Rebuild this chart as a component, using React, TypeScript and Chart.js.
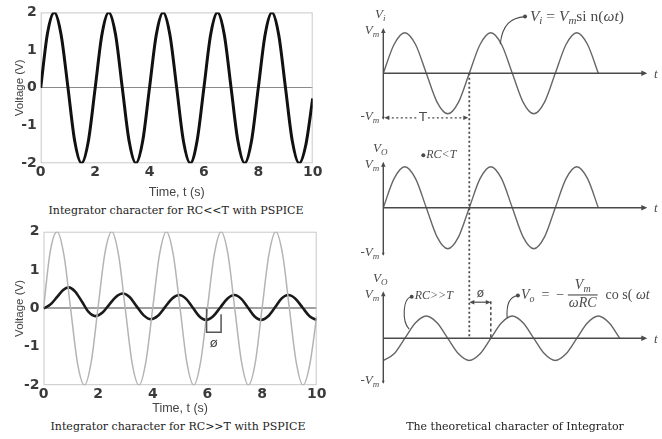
import React, { useEffect, useRef } from "react";
import { Chart, registerables } from "chart.js";

Chart.register(...registerables);

// ---------------- PSPICE simulations (time in s, voltage in V) ----------------
const pspiceTime = [
  0, 0.25, 0.5, 0.75, 1, 1.25, 1.5, 1.75, 2, 2.25, 2.5, 2.75, 3, 3.25, 3.5, 3.75, 4, 4.25, 4.5, 4.75, 5,
  5.25, 5.5, 5.75, 6, 6.25, 6.5, 6.75, 7, 7.25, 7.5, 7.75, 8, 8.25, 8.5, 8.75, 9, 9.25, 9.5, 9.75, 10,
];
// output for RC << T (upper-left, black)
const outputRcSmall = [
  0, 1.45, 2, 1.41, 0.02, -1.41, -2, -1.42, -0.02, 1.41, 2, 1.42, 0, -1.41, -2, -1.41, 0, 1.41, 2, 1.41, 0,
  -1.42, -2, -1.4, 0, 1.42, 2, 1.41, 0, -1.41, -2, -1.41, 0, 1.41, 2, 1.41, 0, -1.41, -2, -1.5, -0.28,
];
// input in the RC >> T simulation (lower-left, grey)
const inputRcLarge = [
  0, 1.5, 2, 1.38, -0.05, -1.45, -2, -1.38, 0.05, 1.45, 2, 1.38, -0.05, -1.45, -2, -1.38, 0.02, 1.42, 2, 1.4,
  0, -1.42, -2, -1.4, 0, 1.4, 2, 1.42, 0, -1.4, -2, -1.42, 0, 1.4, 2, 1.42, 0, -1.4, -2, -1.45, -0.2,
];
// output for RC >> T (lower-left, black)
const outputTime = [
  0, 0.25, 0.5, 0.72, 0.92, 1.16, 1.41, 1.65, 1.9, 2.15, 2.4, 2.65, 2.9, 3.16, 3.41, 3.67, 3.93, 4.19, 4.45, 4.71,
  4.97, 5.21, 5.46, 5.7, 5.95, 6.21, 6.47, 6.73, 6.99, 7.23, 7.48, 7.72, 7.97, 8.22, 8.47, 8.71, 8.96, 9.22, 9.48,
  9.74, 10,
];
const outputRcLarge = [
  0, 0.1, 0.3, 0.48, 0.55, 0.44, 0.175, -0.09, -0.2, -0.115, 0.095, 0.3, 0.39, 0.29, 0.055, -0.18, -0.28, -0.19,
  0.035, 0.26, 0.35, 0.255, 0.025, -0.205, -0.3, -0.205, 0.025, 0.255, 0.35, 0.255, 0.025, -0.205, -0.3, -0.205,
  0.025, 0.255, 0.35, 0.255, 0.025, -0.205, -0.3,
];
const timeTicks = [0, 2, 4, 6, 8, 10];
const voltTicks = [-2, -1, 0, 1, 2];
// phase-shift bracket ø (time s, voltage V)
const phaseBracketTime = [5.97, 6.5];
const phaseBracketVolt = [0, -0.62, -0.15];

// ---------------- Theoretical curves (time in periods T, amplitude in Vm) ----------------
const phaseIn = [0, 0.125, 0.25, 0.375, 0.5, 0.625, 0.75, 0.875, 1, 1.125, 1.25, 1.375, 1.5, 1.625, 1.75, 1.875, 2, 2.125, 2.25, 2.375, 2.5];
const viWave = [0, 0.71, 1, 0.71, 0, -0.71, -1, -0.71, 0, 0.71, 1, 0.71, 0, -0.71, -1, -0.71, 0, 0.71, 1, 0.71, 0];
const voLowRc = [0, 0.71, 1, 0.71, 0, -0.71, -1, -0.71, 0, 0.71, 1, 0.71, 0, -0.71, -1, -0.71, 0, 0.71, 1, 0.71, 0];
const phaseOut = [0, 0.125, 0.25, 0.375, 0.5, 0.625, 0.75, 0.875, 1, 1.125, 1.25, 1.375, 1.5, 1.625, 1.75, 1.875, 2, 2.125, 2.25, 2.375, 2.5, 2.625, 2.75];
const voHighRc = [-0.53, -0.37, 0, 0.37, 0.53, 0.37, 0, -0.37, -0.53, -0.37, 0, 0.37, 0.53, 0.37, 0, -0.37, -0.53, -0.37, 0, 0.37, 0.53, 0.37, 0];
const phiShift = [1, 1.25];

const pts = (xs: number[], ys: number[]) => xs.map((x, i) => ({ x, y: ys[i] }));

const TICK_FONT = { family: "DejaVu Sans", size: 14, weight: "bold" };
const TICK_COLOR = "#3a3a3a";

function pspiceOptions(geom: { top: number; right: number; yw: number; xh: number }, zeroColor: string, zeroWidth: number): any {
  return {
    responsive: false,
    maintainAspectRatio: false,
    animation: false,
    layout: { padding: { left: 0, top: geom.top, right: geom.right, bottom: 0 } },
    plugins: { legend: { display: false }, tooltip: { enabled: false }, title: { display: false } },
    elements: { point: { radius: 0 } },
    scales: {
      x: {
        type: "linear",
        min: 0,
        max: 10,
        afterBuildTicks: (s: any) => {
          s.ticks = timeTicks.map((v) => ({ value: v }));
        },
        ticks: { font: TICK_FONT, color: TICK_COLOR, padding: 1, maxRotation: 0 },
        grid: { display: false, drawTicks: false },
        border: { display: false },
        title: { display: true, text: "Time, t (s)", font: { family: "Liberation Sans", size: 12.5 }, color: "#444", padding: { top: 0, bottom: 0 } },
        afterFit: (s: any) => {
          s.height = geom.xh;
        },
      },
      y: {
        type: "linear",
        min: -2,
        max: 2,
        afterBuildTicks: (s: any) => {
          s.ticks = voltTicks.map((v) => ({ value: v }));
        },
        ticks: { font: TICK_FONT, color: TICK_COLOR, padding: 4 },
        grid: {
          drawTicks: false,
          color: (c: any) => (c.tick && c.tick.value === 0 ? zeroColor : "rgba(0,0,0,0)"),
          lineWidth: zeroWidth,
        },
        border: { display: false },
        title: { display: true, text: "Voltage (V)", font: { family: "Liberation Sans", size: 11.5 }, color: "#444", padding: { top: 13, bottom: 0 } },
        afterFit: (s: any) => {
          s.width = geom.yw;
        },
      },
    },
  };
}

const framePlugin = {
  id: "frame",
  beforeDatasetsDraw(chart: any) {
    const { ctx, chartArea: a } = chart;
    ctx.save();
    ctx.strokeStyle = "#c9c9c9";
    ctx.lineWidth = 1;
    ctx.strokeRect(a.left + 0.5, a.top + 0.5, a.right - a.left - 1, a.bottom - a.top - 1);
    ctx.restore();
  },
};

const bracketPlugin = {
  id: "bracket",
  afterDatasetsDraw(chart: any) {
    const { ctx, scales } = chart;
    const x0 = scales.x.getPixelForValue(phaseBracketTime[0]);
    const x1 = scales.x.getPixelForValue(phaseBracketTime[1]);
    const yTop = scales.y.getPixelForValue(phaseBracketVolt[0]);
    const yBot = scales.y.getPixelForValue(phaseBracketVolt[1]);
    const yR = scales.y.getPixelForValue(phaseBracketVolt[2]);
    ctx.save();
    ctx.strokeStyle = "#555";
    ctx.lineWidth = 1.5;
    ctx.beginPath();
    ctx.moveTo(x0, yTop);
    ctx.lineTo(x0, yBot);
    ctx.lineTo(x1, yBot);
    ctx.lineTo(x1, yR);
    ctx.stroke();
    ctx.fillStyle = "#444";
    ctx.font = '13px "DejaVu Sans"';
    ctx.textAlign = "center";
    ctx.textBaseline = "middle";
    ctx.fillText("ø", (x0 + x1) / 2, yBot + 11);
    ctx.restore();
  },
};

// ---------- right-hand theoretical figure ----------
type Seg = { t: string; it?: boolean; sub?: boolean };
function drawRich(ctx: CanvasRenderingContext2D, segs: Seg[], x: number, y: number, align: "left" | "right" | "center", base = 13) {
  const fontOf = (s: Seg) => `${s.it ? "italic " : ""}${s.sub ? Math.round(base * 0.7) : base}px "Liberation Serif"`;
  let w = 0;
  for (const s of segs) {
    ctx.font = fontOf(s);
    w += ctx.measureText(s.t).width;
  }
  let cx = align === "left" ? x : align === "right" ? x - w : x - w / 2;
  ctx.textAlign = "left";
  ctx.textBaseline = "middle";
  for (const s of segs) {
    ctx.font = fontOf(s);
    ctx.fillText(s.t, cx, y + (s.sub ? base * 0.3 : 0));
    cx += ctx.measureText(s.t).width;
  }
  return w;
}

function arrowHead(ctx: CanvasRenderingContext2D, x: number, y: number, angle: number, size = 5) {
  ctx.save();
  ctx.translate(x, y);
  ctx.rotate(angle);
  ctx.beginPath();
  ctx.moveTo(0, 0);
  ctx.lineTo(-size, -size * 0.45);
  ctx.lineTo(-size, size * 0.45);
  ctx.closePath();
  ctx.fill();
  ctx.restore();
}

const RIGHT_H = 439;
const panelZeroPx = [73.3, 207.7, 338.3];
const panelUnitPx = [40.5, 41, 42];
const axisTop = [1.12, 1.12, 1.12];
const axisBottom = [-1.12, -1.15, -1.06];
const panelNames = ["i", "O", "O"];

const theoryPlugin = {
  id: "theory",
  afterDatasetsDraw(chart: any) {
    const { ctx, scales } = chart;
    const xs = scales.x;
    const Y = [scales.y1, scales.y2, scales.y3];
    const px = (v: number) => xs.getPixelForValue(v);
    ctx.save();
    ctx.strokeStyle = "#4a4a4a";
    ctx.fillStyle = "#4a4a4a";
    ctx.lineWidth = 1.4;
    for (let i = 0; i < 3; i++) {
      const ys = Y[i];
      const z = ys.getPixelForValue(0);
      const ax = px(0);
      const yt = ys.getPixelForValue(axisTop[i]);
      const yb = ys.getPixelForValue(axisBottom[i]);
      ctx.beginPath();
      ctx.moveTo(ax, yt + 3);
      ctx.lineTo(ax, yb);
      ctx.moveTo(ax, z);
      ctx.lineTo(px(3.04), z);
      ctx.stroke();
      arrowHead(ctx, ax, yt, -Math.PI / 2, 5);
      arrowHead(ctx, ax, yb + 1, Math.PI / 2, 3);
      arrowHead(ctx, px(3.07), z, 0, 6);
      drawRich(ctx, [{ t: "t", it: true }], px(3.17), z + 1, "center", 13);
      drawRich(ctx, [{ t: "V", it: true }, { t: "m", it: true, sub: true }], ax - 4, ys.getPixelForValue(1) - 2, "right", 13);
      drawRich(ctx, [{ t: "-", it: false }, { t: "V", it: true }, { t: "m", it: true, sub: true }], ax - 4, ys.getPixelForValue(axisBottom[i]) - 2, "right", 13);
      drawRich(ctx, [{ t: "V", it: true }, { t: panelNames[i], it: true, sub: true }], ax - 3, yt - 13, "center", 13);
    }
    const [y1, y2, y3] = Y;
    // dotted vertical guide at one period
    ctx.save();
    ctx.setLineDash([2, 2.5]);
    ctx.lineWidth = 1.8;
    ctx.beginPath();
    ctx.moveTo(px(phiShift[0]), y1.getPixelForValue(0));
    ctx.lineTo(px(phiShift[0]), y3.getPixelForValue(0));
    ctx.stroke();
    // T arrow
    const yT = y1.getPixelForValue(-1.1);
    ctx.lineWidth = 1.3;
    ctx.beginPath();
    ctx.moveTo(px(0) + 4, yT);
    ctx.lineTo(px(1) - 4, yT);
    ctx.stroke();
    // phase shift dashed marker
    const yPhi = y3.getPixelForValue(0.86);
    ctx.setLineDash([3, 2.5]);
    ctx.lineWidth = 1.5;
    ctx.beginPath();
    ctx.moveTo(px(phiShift[1]), yPhi - 1);
    ctx.lineTo(px(phiShift[1]), y3.getPixelForValue(0));
    ctx.stroke();
    ctx.setLineDash([]);
    ctx.lineWidth = 1.2;
    ctx.beginPath();
    ctx.moveTo(px(phiShift[0]) + 3, yPhi);
    ctx.lineTo(px(phiShift[1]) - 3, yPhi);
    ctx.stroke();
    ctx.restore();
    arrowHead(ctx, px(phiShift[0]), yPhi, Math.PI, 5);
    arrowHead(ctx, px(phiShift[1]), yPhi, 0, 5);
    arrowHead(ctx, px(0) + 1, yT, Math.PI, 5);
    arrowHead(ctx, px(1) - 1, yT, 0, 5);
    ctx.fillStyle = "#fff";
    ctx.fillRect(px(0.4), yT - 7, px(0.52) - px(0.4), 14);
    ctx.fillStyle = "#4a4a4a";
    ctx.font = '13px "DejaVu Sans"';
    ctx.textAlign = "center";
    ctx.textBaseline = "middle";
    ctx.fillText("T", px(0.46), yT);
    ctx.font = '12px "DejaVu Sans"';
    ctx.fillText("ø", px(1.13), y3.getPixelForValue(1.05));

    // callout helpers
    const dot = (x: number, y: number) => {
      ctx.beginPath();
      ctx.arc(x, y, 2, 0, Math.PI * 2);
      ctx.fill();
    };
    ctx.lineWidth = 1.1;
    // Vi callout
    {
      const sx = px(1.648), sy = y1.getPixelForValue(1.4);
      const ex = px(1.36), ey = y1.getPixelForValue(0.72);
      ctx.beginPath();
      ctx.moveTo(sx, sy);
      ctx.bezierCurveTo(sx - 14, sy + 1, ex + 2, sy + 8, ex, ey);
      ctx.stroke();
      dot(sx, sy);
      drawRich(
        ctx,
        [
          { t: " V", it: true },
          { t: "i", it: true, sub: true },
          { t: " = " },
          { t: "V", it: true },
          { t: "m", it: true, sub: true },
          { t: "si n(" },
          { t: "ωt", it: true },
          { t: ")" },
        ],
        sx + 1,
        sy,
        "left",
        15.5
      );
    }
    // RC<T label
    {
      const sx = px(0.465), sy = y2.getPixelForValue(1.28);
      dot(sx, sy);
      drawRich(ctx, [{ t: "RC<T", it: true }], sx + 3, sy, "left", 12);
    }
    // RC>>T label
    {
      const sx = px(0.33), sy = y3.getPixelForValue(0.99);
      const ex = px(0.3), ey = y3.getPixelForValue(0.22);
      ctx.beginPath();
      ctx.moveTo(sx, sy);
      ctx.bezierCurveTo(sx - 9, sy + 1, sx - 10, ey - 8, ex, ey);
      ctx.stroke();
      dot(sx, sy);
      drawRich(ctx, [{ t: "RC>>T", it: true }], sx + 3, sy - 1, "left", 12);
    }
    // Vo callout
    {
      const sx = px(1.565), sy = y3.getPixelForValue(1.02);
      const ex = px(1.44), ey = y3.getPixelForValue(0.49);
      ctx.beginPath();
      ctx.moveTo(sx, sy);
      ctx.bezierCurveTo(sx - 8, sy + 1, ex - 1, sy + 8, ex, ey);
      ctx.stroke();
      dot(sx, sy);
      let cx = sx + 3;
      cx += drawRich(ctx, [{ t: "V", it: true }, { t: "o", it: true, sub: true }, { t: "  =  − " }], cx, sy, "left", 14);
      const fx = cx + 15;
      drawRich(ctx, [{ t: "V", it: true }, { t: "m", it: true, sub: true }], fx, sy - 10, "center", 14);
      const fw = drawRich(ctx, [{ t: "ωRC", it: true }], fx, sy + 8, "center", 14);
      ctx.beginPath();
      ctx.moveTo(fx - fw / 2 - 1, sy - 0.5);
      ctx.lineTo(fx + fw / 2 + 1, sy - 0.5);
      ctx.stroke();
      drawRich(ctx, [{ t: "co s( " }, { t: "ωt", it: true }], fx + fw / 2 + 9, sy, "left", 14);
    }
    ctx.restore();
  },
};

function yRange(i: number) {
  return { min: -(RIGHT_H - panelZeroPx[i]) / panelUnitPx[i], max: panelZeroPx[i] / panelUnitPx[i] };
}

const CAPTION: React.CSSProperties = {
  position: "absolute",
  transform: "translateX(-50%)",
  whiteSpace: "nowrap",
  fontFamily: '"DejaVu Serif", serif',
  fontSize: 11,
  color: "#222",
  lineHeight: "14px",
};

export default function App() {
  const c1 = useRef<HTMLCanvasElement>(null);
  const c2 = useRef<HTMLCanvasElement>(null);
  const c3 = useRef<HTMLCanvasElement>(null);

  useEffect(() => {
    const charts: Chart[] = [];
    charts.push(
      new Chart(c1.current!, {
        type: "line",
        data: {
          datasets: [
            { data: pts(pspiceTime, outputRcSmall), borderColor: "#111", borderWidth: 3, cubicInterpolationMode: "monotone", pointRadius: 0 },
          ],
        },
        options: pspiceOptions({ top: 10.7, right: 17.3, yw: 40.7, xh: 36.7 }, "#8a8a8a", 1),
        plugins: [framePlugin],
      } as any)
    );
    charts.push(
      new Chart(c2.current!, {
        type: "line",
        data: {
          datasets: [
            { data: pts(pspiceTime, inputRcLarge), borderColor: "#b4b4b4", borderWidth: 1.5, cubicInterpolationMode: "monotone", pointRadius: 0 },
            { data: pts(outputTime, outputRcLarge), borderColor: "#1a1a1a", borderWidth: 2.6, cubicInterpolationMode: "monotone", pointRadius: 0 },
          ],
        },
        options: pspiceOptions({ top: 16.7, right: 13.3, yw: 43.5, xh: 30.8 }, "#a0a0a0", 2),
        plugins: [framePlugin, bracketPlugin],
      } as any)
    );
    const r1 = yRange(0), r2 = yRange(1), r3 = yRange(2);
    charts.push(
      new Chart(c3.current!, {
        type: "line",
        data: {
          datasets: [
            { data: pts(phaseIn, viWave), yAxisID: "y1", borderColor: "#666", borderWidth: 1.4, cubicInterpolationMode: "monotone", pointRadius: 0 },
            { data: pts(phaseIn, voLowRc), yAxisID: "y2", borderColor: "#666", borderWidth: 1.4, cubicInterpolationMode: "monotone", pointRadius: 0 },
            { data: pts(phaseOut, voHighRc), yAxisID: "y3", borderColor: "#666", borderWidth: 1.4, cubicInterpolationMode: "monotone", pointRadius: 0 },
          ],
        },
        options: {
          responsive: false,
          maintainAspectRatio: false,
          animation: false,
          layout: { padding: { left: 53.3, right: 3.5, top: 0, bottom: 0 } },
          plugins: { legend: { display: false }, tooltip: { enabled: false } },
          scales: {
            x: { type: "linear", min: 0, max: 3.2, display: false },
            y1: { type: "linear", position: "left", min: r1.min, max: r1.max, display: false },
            y2: { type: "linear", position: "left", min: r2.min, max: r2.max, display: false },
            y3: { type: "linear", position: "left", min: r3.min, max: r3.max, display: false },
          },
        },
        plugins: [theoryPlugin],
      } as any)
    );
    return () => charts.forEach((c) => c.destroy());
  }, []);

  return (
    <div style={{ position: "absolute", left: 0, top: 0, width: 662, height: 439, background: "#fff", overflow: "hidden" }}>
      <canvas ref={c1} width={330} height={200} style={{ position: "absolute", left: 0, top: 0, width: 330, height: 200 }} />
      <div style={{ ...CAPTION, left: 176, top: 204 }}>Integrator character for RC&lt;&lt;T with PSPICE</div>
      <canvas ref={c2} width={330} height={201} style={{ position: "absolute", left: 0, top: 215, width: 330, height: 201 }} />
      <div style={{ ...CAPTION, left: 178, top: 420 }}>Integrator character for RC&gt;&gt;T with PSPICE</div>
      <canvas ref={c3} width={332} height={439} style={{ position: "absolute", left: 330, top: 0, width: 332, height: 439 }} />
      <div style={{ ...CAPTION, left: 515, top: 420 }}>The theoretical character of Integrator</div>
    </div>
  );
}
